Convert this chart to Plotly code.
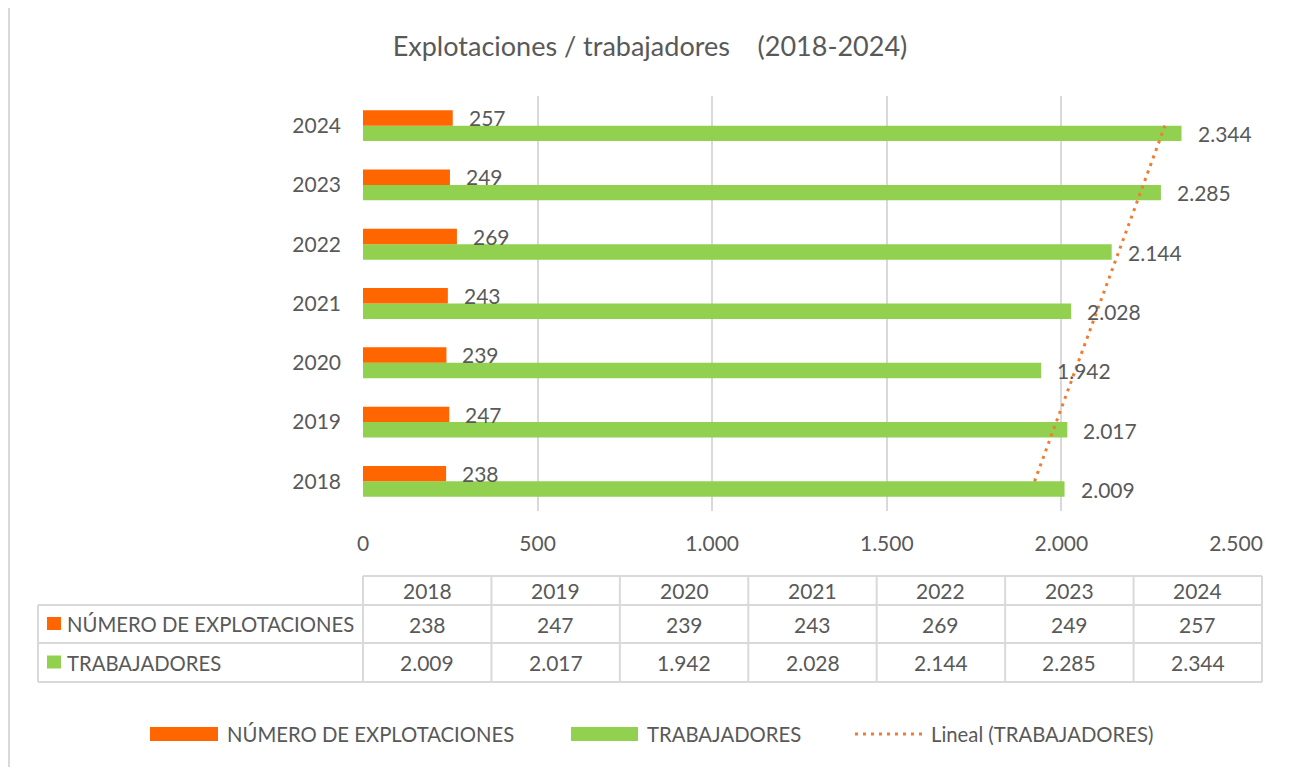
import numpy as np
import plotly.graph_objects as go

years = ["2018", "2019", "2020", "2021", "2022", "2023", "2024"]
explotaciones = [238, 247, 239, 243, 269, 249, 257]
trabajadores = [2009, 2017, 1942, 2028, 2144, 2285, 2344]
x_ticks = [0, 500, 1000, 1500, 2000, 2500]

ORANGE = "#FF6600"
GREEN = "#92D050"
TREND = "#ED7D31"
GREY = "#595959"
LINE = "#D9D9D9"
FONT = "Lato"

W, H = 1297, 767
OFF = 8  # page body margin, positions below are page pixels
# plot area in page pixels
L, R, T, B = 363, 1236, 96, 511


def px(x):
    return (x - L) / (R - L)


def py(y):
    return (B - y) / (B - T)


def fmt(v):
    return "{:,}".format(v).replace(",", ".")


# linear trend (same as Excel "Lineal")
idx = np.arange(len(years))
slope, icpt = np.polyfit(idx, trabajadores, 1)
trend_x = [icpt, icpt + slope * idx[-1]]

DOTS = "3px,5px"

fig = go.Figure()

fig.add_trace(go.Bar(y=years, x=trabajadores, orientation="h",
                     marker=dict(color=GREEN, line=dict(width=0)),
                     name="TRABAJADORES"))
fig.add_trace(go.Bar(y=years, x=explotaciones, orientation="h",
                     marker=dict(color=ORANGE, line=dict(width=0)),
                     name="NÚMERO DE EXPLOTACIONES"))
fig.add_trace(go.Scatter(x=trend_x, y=[years[0], years[-1]], mode="lines",
                         line=dict(color=TREND, width=3, dash=DOTS),
                         name="Lineal (TRABAJADORES)"))

annotations = []
shapes = []

# data labels
for i, (a, b) in enumerate(zip(explotaciones, trabajadores)):
    annotations.append(dict(x=a, y=i, text=fmt(a), showarrow=False, xanchor="left",
                            xshift=14, yshift=8, font=dict(size=21, color=GREY, family=FONT)))
    annotations.append(dict(x=b, y=i, text=fmt(b), showarrow=False, xanchor="left",
                            xshift=14, yshift=-8, font=dict(size=21, color=GREY, family=FONT)))

# data table
t_left, t_right = 38, 1262
col_w = (t_right - L) / len(years)
r_top, r1, r2, r_bot = 576, 605, 643, 682


def hline(x0, x1, y):
    shapes.append(dict(type="line", xref="paper", yref="paper", x0=px(x0), x1=px(x1),
                       y0=py(y), y1=py(y), line=dict(color=LINE, width=2)))


def vline(x, y0, y1):
    shapes.append(dict(type="line", xref="paper", yref="paper", x0=px(x), x1=px(x),
                       y0=py(y0), y1=py(y1), line=dict(color=LINE, width=2)))


hline(L, t_right, r_top)
hline(t_left, t_right, r1)
hline(t_left, t_right, r2)
hline(t_left, t_right, r_bot)
vline(t_left, r1, r_bot)
for i in range(len(years) + 1):
    vline(L + i * col_w, r_top, r_bot)


def txt(x, y, s, anchor="center", size=21):
    annotations.append(dict(x=px(x), y=py(y), xref="paper", yref="paper", text=s,
                            showarrow=False, xanchor=anchor, yanchor="middle",
                            font=dict(size=size, color=GREY, family=FONT)))


for i, yr in enumerate(years):
    cx = L + (i + 0.5) * col_w
    txt(cx, (r_top + r1) / 2, yr)
    txt(cx, (r1 + r2) / 2, fmt(explotaciones[i]))
    txt(cx, (r2 + r_bot) / 2, fmt(trabajadores[i]))

for row_y, color, label in [((r1 + r2) / 2, ORANGE, "NÚMERO DE EXPLOTACIONES"),
                            ((r2 + r_bot) / 2, GREEN, "TRABAJADORES")]:
    shapes.append(dict(type="rect", xref="paper", yref="paper", x0=px(47), x1=px(61),
                       y0=py(row_y - 7), y1=py(row_y + 6), fillcolor=color, line=dict(width=0)))
    txt(65, row_y, label, anchor="left", size=20.3)

# legend
leg_y = 734
shapes.append(dict(type="rect", xref="paper", yref="paper", x0=px(150), x1=px(218),
                   y0=py(leg_y - 7), y1=py(leg_y + 7), fillcolor=ORANGE, line=dict(width=0)))
txt(225, leg_y, "NÚMERO DE EXPLOTACIONES", anchor="left", size=20.3)
shapes.append(dict(type="rect", xref="paper", yref="paper", x0=px(571), x1=px(638),
                   y0=py(leg_y - 7), y1=py(leg_y + 7), fillcolor=GREEN, line=dict(width=0)))
txt(645, leg_y, "TRABAJADORES", anchor="left", size=20.3)
shapes.append(dict(type="line", xref="paper", yref="paper", x0=px(855), x1=px(922),
                   y0=py(leg_y), y1=py(leg_y), line=dict(color=TREND, width=3, dash=DOTS)))
txt(929, leg_y, "Lineal (TRABAJADORES)", anchor="left", size=20.3)

# chart border
shapes.append(dict(type="rect", xref="paper", yref="paper", x0=px(9), x1=px(1293),
                   y0=py(780), y1=py(7), line=dict(color=LINE, width=2), layer="below"))

fig.update_layout(
    width=W, height=H, autosize=False,
    margin=dict(l=L - OFF, r=W - (R - OFF), t=T - OFF, b=H - (B - OFF), pad=0),
    plot_bgcolor="white", paper_bgcolor="white",
    barmode="group", bargap=0.48, bargroupgap=0,
    showlegend=False,
    separators=",.",
    title=dict(text="Explotaciones / trabajadores    (2018-2024)",
               x=(650 - OFF) / W, xanchor="center",
               y=1 - (47 - OFF) / H, yanchor="middle", yref="container",
               font=dict(size=27, color=GREY, family=FONT)),
    xaxis=dict(range=[0, 2500], tickvals=x_ticks, tickformat=",d", showgrid=True,
               gridcolor=LINE, gridwidth=2, zeroline=False, showline=False,
               ticks="", ticklabelstandoff=18,
               tickfont=dict(size=21, color=GREY, family=FONT)),
    yaxis=dict(type="category", categoryorder="array", categoryarray=years,
               range=[-0.5, len(years) - 0.5], showgrid=False, zeroline=False,
               showline=False, ticks="", ticklabelstandoff=21,
               tickfont=dict(size=21, color=GREY, family=FONT)),
    annotations=annotations,
    shapes=shapes,
    font=dict(family=FONT, color=GREY),
)

fig.write_html("out.html")
